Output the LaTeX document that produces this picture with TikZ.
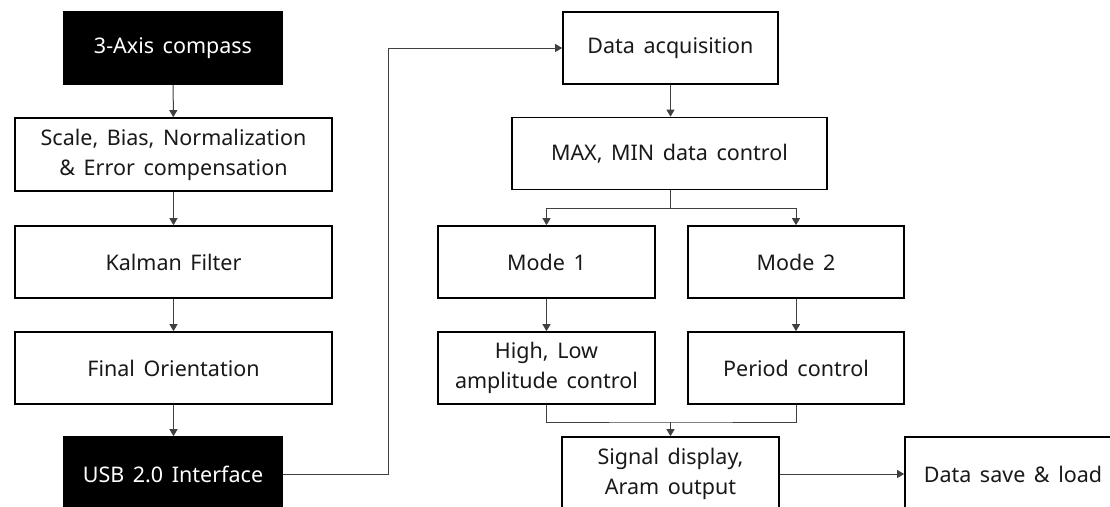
\documentclass[tikz,border=0pt]{standalone}
\usepackage{fontspec}
\setmainfont{Noto Sans}
\usetikzlibrary{arrows.meta}
\newcommand{\myboxfont}{\fontsize{21.5}{30}\selectfont\spaceskip=0.4em plus 0.1em\relax}
\tikzset{
  box/.style={draw=black, line width=1.7pt, fill=white, align=center, inner sep=0pt, font=\myboxfont, text=black!90},
  dark/.style={box, fill=black, text=white},
  conn/.style={draw=black!75, line width=1pt},
  arr/.style={conn, -{Triangle[length=7pt,width=8pt]}},
}
\begin{document}
\begin{tikzpicture}[x=1pt,y=-1pt]
\clip (0,0) rectangle (1110,506);
\fill[white] (0,0) rectangle (1110,506);
% left column
\node[dark, minimum width=218pt, minimum height=72pt] (comp) at (173,48) {3-Axis compass};
\node[box, minimum width=317pt, minimum height=73pt] (scale) at (173.5,154.5) {Scale, Bias, Normalization\\\& Error compensation};
\node[box, minimum width=317pt, minimum height=72pt] (kal) at (173.5,262) {Kalman Filter};
\node[box, minimum width=317pt, minimum height=72pt] (fin) at (173.5,368) {Final Orientation};
\node[dark, minimum width=218pt, minimum height=74pt] (usb) at (173,474) {USB 2.0 Interface};
% right part
\node[box, minimum width=215pt, minimum height=72pt] (acq) at (670.5,48) {Data acquisition};
\node[box, minimum width=315pt, minimum height=72pt] (mm) at (669.5,153.5) {MAX, MIN data control};
\node[box, minimum width=217pt, minimum height=72pt] (m1) at (546.5,262) {Mode 1};
\node[box, minimum width=216pt, minimum height=72pt] (m2) at (796,262) {Mode 2};
\node[box, minimum width=217pt, minimum height=72pt] (hl) at (546.5,368) {High, Low\\amplitude control};
\node[box, minimum width=216pt, minimum height=72pt] (per) at (796,368) {Period control};
\node[box, minimum width=217pt, minimum height=74pt] (sig) at (670.5,474) {Signal display,\\Aram output};
\node[box, minimum width=216pt, minimum height=74pt] (save) at (1013,474) {Data save \& load};
% connectors left
\draw[arr] (comp) -- (scale);
\draw[arr] (scale) -- (kal);
\draw[arr] (kal) -- (fin);
\draw[arr] (fin.south) -- (usb.north -| fin.south);
% usb to acquisition
\coordinate (turn) at (388,48);
\draw[arr] (usb.east) -| (turn) -- (acq.west);
% right connectors
\draw[arr] (acq) -- (mm.north -| acq.south);
\coordinate (split) at (670.5,208);
\draw[conn] (mm.south -| split) -- (split);
\draw[arr] (split) -| (m1.north);
\draw[arr] (split) -| (m2.north);
\draw[arr] (m1) -- (hl);
\draw[arr] (m2) -- (per);
\coordinate (merge) at (670.5,422);
\draw[conn] (hl.south) |- (merge) -| (per.south);
\draw[arr] (merge) -- (sig.north);
\draw[arr] (sig.east) -- (save.west);
\end{tikzpicture}
\end{document}
